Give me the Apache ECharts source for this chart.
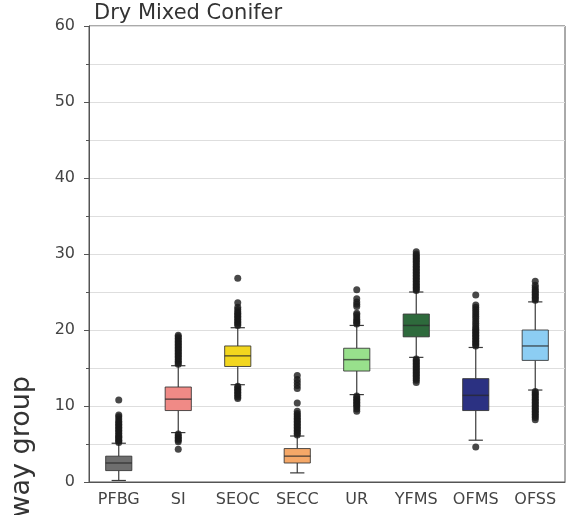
<!DOCTYPE html>
<html>
<head>
<meta charset="utf-8">
<script src="https://cdn.jsdelivr.net/npm/echarts@6/dist/echarts.min.js"></script>
<style>
  html, body { margin: 0; padding: 0; background: #fff; }
  #chart { width: 569px; height: 515px; }
</style>
</head>
<body>
<div id="chart"></div>
<script>
var categories = ['PFBG', 'SI', 'SEOC', 'SECC', 'UR', 'YFMS', 'OFMS', 'OFSS'];
var boxColors = ['#6e6e6e', '#f08a86', '#f2d61e', '#f5a868', '#98e08c', '#2e6a3c', '#2b3182', '#8ccdf3'];

// [low whisker, q1, median, q3, high whisker]
var boxStats = [
  [0.2, 1.5, 2.5, 3.4, 5.1],
  [6.5, 9.4, 10.9, 12.5, 15.3],
  [12.8, 15.2, 16.6, 17.9, 20.3],
  [1.2, 2.5, 3.4, 4.4, 6.05],
  [11.5, 14.6, 16.1, 17.6, 20.6],
  [16.4, 19.1, 20.6, 22.1, 25.0],
  [5.5, 9.4, 11.4, 13.6, 17.7],
  [12.1, 16.0, 17.9, 20.0, 23.7]
];

var outliers = [
  [5.2, 5.4, 5.5, 5.7, 5.9, 6.0, 6.2, 6.4, 6.6, 6.8, 7.0, 7.2, 7.4, 7.6, 7.8, 8.0, 8.3, 8.6, 8.8, 10.8],
  [15.5, 15.7, 15.9, 16.1, 16.3, 16.5, 16.7, 16.9, 17.1, 17.3, 17.5, 17.7, 17.9, 18.1, 18.3, 18.5, 18.7, 18.9, 19.1, 19.3,
   6.3, 6.1, 5.9, 5.7, 5.5, 5.3, 4.3],
  [20.6, 20.8, 21.0, 21.2, 21.4, 21.6, 21.8, 22.0, 22.2, 22.4, 22.7, 23.0, 23.6, 26.8,
   12.6, 12.4, 12.2, 12.0, 11.8, 11.6, 11.4, 11.2, 11.0],
  [6.2, 6.4, 6.6, 6.8, 7.0, 7.2, 7.4, 7.6, 7.8, 8.0, 8.2, 8.4, 8.6, 8.8, 9.0, 9.3, 10.4, 12.3, 12.7, 13.1, 13.5, 14.0],
  [20.8, 21.0, 21.2, 21.4, 21.7, 22.0, 22.2, 23.1, 23.4, 23.7, 24.1, 25.3,
   11.3, 11.1, 10.9, 10.7, 10.5, 10.3, 10.1, 9.9, 9.6, 9.3],
  [25.2, 25.4, 25.6, 25.8, 26.0, 26.2, 26.4, 26.6, 26.8, 27.0, 27.2, 27.4, 27.6, 27.8, 28.0, 28.2, 28.4, 28.6, 28.8,
   29.0, 29.2, 29.4, 29.6, 29.8, 30.0, 30.3,
   16.2, 16.0, 15.8, 15.6, 15.4, 15.2, 15.0, 14.8, 14.6, 14.4, 14.2, 14.0, 13.8, 13.6, 13.4, 13.1],
  [17.9, 18.1, 18.3, 18.5, 18.7, 18.9, 19.1, 19.3, 19.5, 19.7, 19.9, 20.1, 20.3, 20.6, 20.9, 21.2, 21.5, 21.8,
   22.1, 22.4, 22.7, 23.0, 23.3, 24.6, 4.6],
  [23.9, 24.1, 24.3, 24.5, 24.7, 24.9, 25.1, 25.3, 25.6, 25.9, 26.4,
   11.9, 11.7, 11.5, 11.3, 11.1, 10.9, 10.7, 10.5, 10.3, 10.1, 9.9, 9.7, 9.5, 9.3, 9.1, 8.9, 8.7, 8.5, 8.2]
];

var yTicks = { min: 0, max: 60, interval: 10 };

var boxData = [];
for (var i = 0; i < boxStats.length; i++) {
  boxData.push([i].concat(boxStats[i]));
}
var flierData = [];
for (var j = 0; j < outliers.length; j++) {
  for (var k = 0; k < outliers[j].length; k++) {
    flierData.push([j, outliers[j][k]]);
  }
}

function renderBox(params, api) {
  var idx = api.value(0);
  var lo = api.coord([idx, api.value(1)]);
  var q1 = api.coord([idx, api.value(2)]);
  var md = api.coord([idx, api.value(3)]);
  var q3 = api.coord([idx, api.value(4)]);
  var hi = api.coord([idx, api.value(5)]);
  var band = api.size([1, 0])[0];
  var bw = band * 0.44;
  var cw = band * 0.24;
  var x = lo[0];
  var lineStyle = { stroke: '#3a3a3a', lineWidth: 1.2 };
  return {
    type: 'group',
    children: [
      { type: 'line', shape: { x1: x, y1: lo[1], x2: x, y2: q1[1] }, style: lineStyle },
      { type: 'line', shape: { x1: x, y1: q3[1], x2: x, y2: hi[1] }, style: lineStyle },
      { type: 'line', shape: { x1: x - cw / 2, y1: lo[1], x2: x + cw / 2, y2: lo[1] }, style: lineStyle },
      { type: 'line', shape: { x1: x - cw / 2, y1: hi[1], x2: x + cw / 2, y2: hi[1] }, style: lineStyle },
      {
        type: 'rect',
        shape: { x: x - bw / 2, y: q3[1], width: bw, height: q1[1] - q3[1] },
        style: { fill: boxColors[idx], stroke: 'rgba(50,50,50,0.85)', lineWidth: 1 }
      },
      {
        type: 'line',
        shape: { x1: x - bw / 2, y1: md[1], x2: x + bw / 2, y2: md[1] },
        style: { stroke: 'rgba(40,40,40,0.7)', lineWidth: 1.5 }
      }
    ]
  };
}

var chart = echarts.init(document.getElementById('chart'));
chart.setOption({
  backgroundColor: '#fff',
  animation: false,
  textStyle: { fontFamily: 'DejaVu Sans' },
  title: {
    text: 'Dry Mixed Conifer',
    left: 94,
    top: 3,
    padding: 0,
    textStyle: { fontSize: 21, fontWeight: 'normal', color: '#333', fontFamily: 'DejaVu Sans' }
  },
  grid: {
    left: 89, right: 4, top: 26, bottom: 33,
    show: true, borderColor: '#555', borderWidth: 1
  },
  xAxis: {
    type: 'category',
    data: categories,
    boundaryGap: true,
    axisLine: { lineStyle: { color: '#555', width: 1 } },
    axisTick: { alignWithLabel: true, length: 5, lineStyle: { color: '#555' } },
    axisLabel: { interval: 0, fontSize: 16, color: '#444', margin: 10 },
    splitLine: { show: false }
  },
  yAxis: {
    type: 'value',
    min: yTicks.min,
    max: yTicks.max,
    interval: yTicks.interval,
    axisLine: { show: true, lineStyle: { color: '#555', width: 1 } },
    axisTick: { show: true, length: 5, lineStyle: { color: '#555' } },
    minorTick: { show: true, splitNumber: 2, length: 3, lineStyle: { color: '#555' } },
    axisLabel: { fontSize: 16, color: '#444', margin: 14 },
    splitLine: { show: true, lineStyle: { color: '#dedede', width: 1 } },
    minorSplitLine: { show: true, lineStyle: { color: '#dedede', width: 1 } }
  },
  graphic: [{
    type: 'text',
    x: 22,
    y: 376,
    rotation: Math.PI / 2,
    style: {
      text: 'Pathway group',
      fontSize: 27,
      fontFamily: 'DejaVu Sans',
      fill: '#333',
      align: 'right',
      verticalAlign: 'middle'
    }
  }],
  series: [
    {
      type: 'custom',
      renderItem: renderBox,
      encode: { x: 0, y: [1, 2, 3, 4, 5] },
      data: boxData,
      z: 2
    },
    {
      type: 'scatter',
      data: flierData,
      symbolSize: 7,
      itemStyle: { color: '#1a1a1a' },
      z: 3
    }
  ]
});
</script>
</body>
</html>
